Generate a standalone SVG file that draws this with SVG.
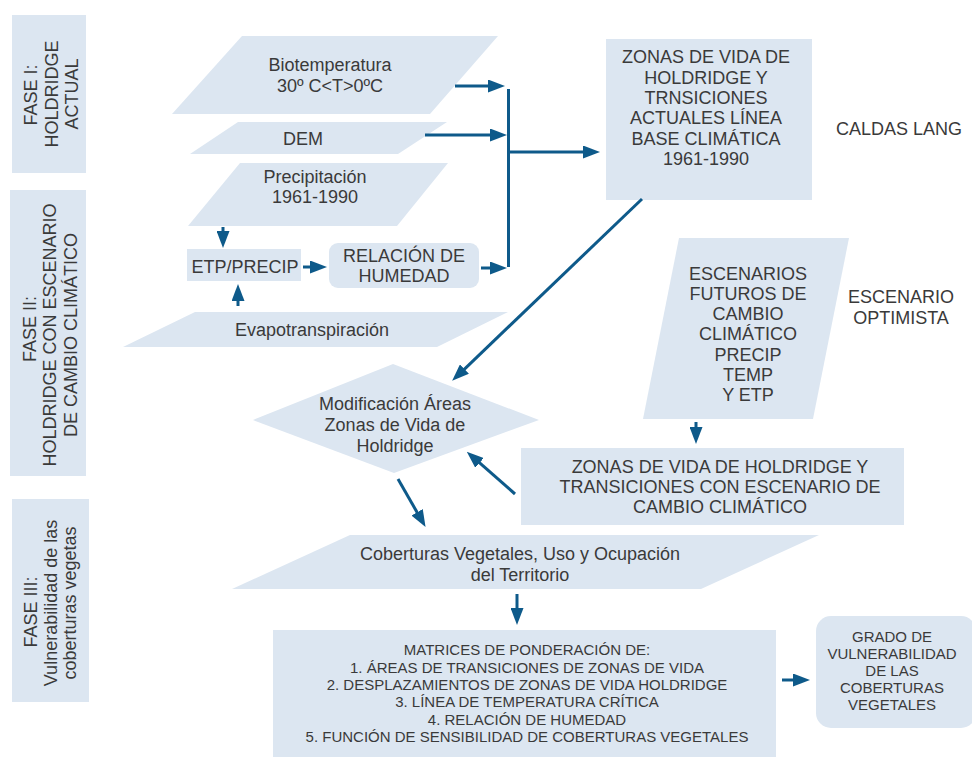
<svg xmlns="http://www.w3.org/2000/svg" width="972" height="757" viewBox="0 0 972 757">
<defs>
<style>
.s{fill:#dce6f1;stroke:none}
.t{font-family:"Liberation Sans",Arial,sans-serif;font-size:18px;fill:#3a3a3a;text-anchor:middle}
.m{font-size:15px}
.c{fill:none;stroke:#0e5a8a;stroke-width:3}
.a{marker-end:url(#ah)}
</style>
<marker id="ah" markerUnits="userSpaceOnUse" markerWidth="17" markerHeight="13" refX="1" refY="6.5" orient="auto">
<path d="M0,0 L17,6.5 L0,13 z" fill="#0e5a8a"/>
</marker>
</defs>
<rect width="972" height="757" fill="#fff"/>

<g id="fase1">
<rect class="s" x="12" y="15" width="74" height="158"/>
<text class="t" transform="rotate(-90 37 95)" x="37" y="95">FASE I:</text>
<text class="t" transform="rotate(-90 57.5 94)" x="57.5" y="94">HOLDRIDGE</text>
<text class="t" transform="rotate(-90 78 94)" x="78" y="94">ACTUAL</text>
</g>
<g id="fase2">
<rect class="s" x="10" y="190" width="76" height="286"/>
<text class="t" transform="rotate(-90 36 329)" x="36" y="329">FASE II:</text>
<text class="t" transform="rotate(-90 56 335)" x="56" y="335">HOLDRIDGE CON ESCENARIO</text>
<text class="t" transform="rotate(-90 77 335)" x="77" y="335">DE CAMBIO CLIMÁTICO</text>
</g>
<g id="fase3">
<rect class="s" x="12" y="499" width="77" height="203"/>
<text class="t" transform="rotate(-90 37 612)" x="37" y="612">FASE III:</text>
<text class="t" transform="rotate(-90 57 603)" x="57" y="603">Vulnerabilidad de las</text>
<text class="t" transform="rotate(-90 76 603)" x="76" y="603">coberturas vegetas</text>
</g>

<g id="biotemperatura">
<polygon class="s" points="242,36 498,36 430,114 172,114"/>
<text class="t" x="330" y="71">Biotemperatura</text>
<text class="t" x="330" y="92">30º C&lt;T&gt;0ºC</text>
</g>
<g id="dem">
<polygon class="s" points="238,122 447,122 398,154 190,154"/>
<text class="t" x="303" y="145">DEM</text>
</g>
<g id="precipitacion">
<polygon class="s" points="240,163 448,163 397,226 188,226"/>
<text class="t" x="315" y="183">Precipitación</text>
<text class="t" x="315" y="203">1961-1990</text>
</g>
<g id="etp-precip">
<rect class="s" x="187" y="249" width="114" height="32"/>
<text class="t" x="245" y="272.5">ETP/PRECIP</text>
</g>
<g id="relacion-humedad">
<rect class="s" x="329" y="243" width="150" height="45" rx="9"/>
<text class="t" x="404" y="262">RELACIÓN DE</text>
<text class="t" x="404" y="282">HUMEDAD</text>
</g>
<g id="evapotranspiracion">
<polygon class="s" points="195,312 508,312 437,347 123,347"/>
<text class="t" x="312" y="336">Evapotranspiración</text>
</g>
<g id="zonas-actuales">
<rect class="s" x="606" y="39" width="206" height="161"/>
<text class="t" x="706" y="63.3">ZONAS DE VIDA DE</text>
<text class="t" x="706" y="83.6">HOLDRIDGE Y</text>
<text class="t" x="706" y="104">TRNSICIONES</text>
<text class="t" x="706" y="124.2">ACTUALES LÍNEA</text>
<text class="t" x="706" y="144.5">BASE CLIMÁTICA</text>
<text class="t" x="706" y="165">1961-1990</text>
</g>
<g id="caldas-lang">
<text class="t" x="899" y="135">CALDAS LANG</text>
</g>
<g id="escenarios">
<polygon class="s" points="679,238 849,238 813,419 643,419"/>
<text class="t" x="748" y="279.5">ESCENARIOS</text>
<text class="t" x="748" y="299.8">FUTUROS DE</text>
<text class="t" x="748" y="320.1">CAMBIO</text>
<text class="t" x="748" y="340.4">CLIMÁTICO</text>
<text class="t" x="748" y="360.7">PRECIP</text>
<text class="t" x="748" y="381">TEMP</text>
<text class="t" x="748" y="401.3">Y ETP</text>
</g>
<g id="escenario-optimista">
<text class="t" x="901" y="303.3">ESCENARIO</text>
<text class="t" x="901" y="324">OPTIMISTA</text>
</g>
<g id="zonas-escenario">
<rect class="s" x="521" y="448" width="383" height="77"/>
<text class="t" x="720" y="472.7">ZONAS DE VIDA DE HOLDRIDGE Y</text>
<text class="t" x="720" y="493">TRANSICIONES CON ESCENARIO DE</text>
<text class="t" x="720" y="513.3">CAMBIO CLIMÁTICO</text>
</g>
<g id="modificacion">
<polygon class="s" points="253,420 393,364 539,420 394,473"/>
<text class="t" x="395" y="410">Modificación Áreas</text>
<text class="t" x="395" y="431">Zonas de Vida de</text>
<text class="t" x="395" y="451.7">Holdridge</text>
</g>
<g id="coberturas">
<polygon class="s" points="350,535 819,535 701,589 232,589"/>
<text class="t" x="520" y="560">Coberturas Vegetales, Uso y Ocupación</text>
<text class="t" x="520" y="580.7">del Territorio</text>
</g>
<g id="matrices">
<rect class="s" x="273" y="630" width="503" height="127"/>
<text class="t m" x="527" y="655">MATRICES DE PONDERACIÓN DE:</text>
<text class="t m" x="527" y="672.5">1. ÁREAS DE TRANSICIONES DE ZONAS DE VIDA</text>
<text class="t m" x="527" y="690">2. DESPLAZAMIENTOS DE ZONAS DE VIDA HOLDRIDGE</text>
<text class="t m" x="527" y="707.3">3. LÍNEA DE TEMPERATURA CRÍTICA</text>
<text class="t m" x="527" y="724.7">4. RELACIÓN DE HUMEDAD</text>
<text class="t m" x="527" y="742">5. FUNCIÓN DE SENSIBILIDAD DE COBERTURAS VEGETALES</text>
</g>
<g id="grado">
<rect class="s" x="816" y="616" width="160" height="112" rx="15"/>
<text class="t m" x="892" y="641.7">GRADO DE</text>
<text class="t m" x="892" y="659">VULNERABILIDAD</text>
<text class="t m" x="892" y="676">DE LAS</text>
<text class="t m" x="892" y="693.3">COBERTURAS</text>
<text class="t m" x="892" y="710">VEGETALES</text>
</g>

<g id="connectors">
<line class="c a" x1="455" y1="86" x2="489" y2="86"/>
<line class="c a" x1="425" y1="135" x2="491" y2="135"/>
<line class="c a" x1="481" y1="268" x2="491" y2="268"/>
<line class="c" x1="508.5" y1="89" x2="508.5" y2="267"/>
<line class="c a" x1="510" y1="152" x2="584" y2="152"/>
<line class="c a" x1="303" y1="267" x2="311" y2="267"/>
<line class="c a" x1="223" y1="227" x2="223" y2="232"/>
<line class="c a" x1="238" y1="306" x2="238" y2="300"/>
<line class="c a" x1="642" y1="199" x2="463.7" y2="369.8"/>
<line class="c a" x1="696" y1="422" x2="696" y2="428"/>
<line class="c a" x1="515" y1="494" x2="478.8" y2="462.2"/>
<line class="c a" x1="398" y1="479" x2="417.6" y2="513.2"/>
<line class="c a" x1="517" y1="594" x2="517" y2="609"/>
<line class="c a" x1="782" y1="680" x2="794" y2="680"/>
</g>
</svg>
